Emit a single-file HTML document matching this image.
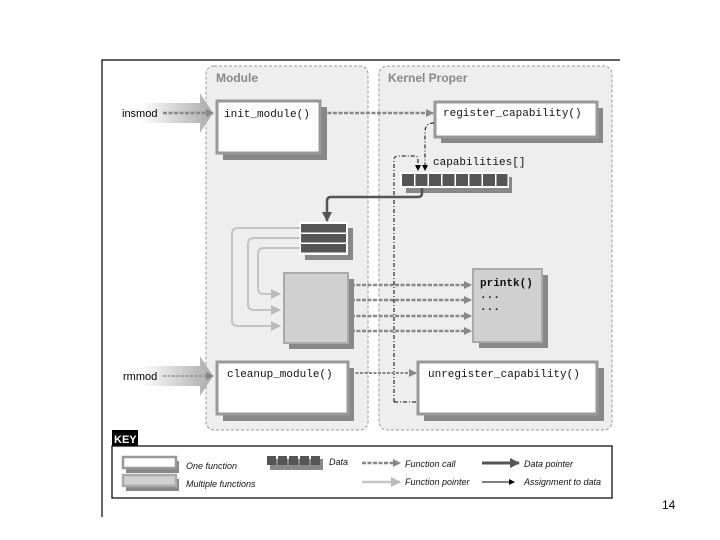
<!DOCTYPE html>
<html><head><meta charset="utf-8"><style>
body{margin:0;background:#fff;width:720px;height:540px;overflow:hidden}
svg{display:block}
.m{font-family:"Liberation Mono",monospace;font-size:11px;fill:#111}
.s{font-family:"Liberation Sans",sans-serif;font-style:italic;font-size:9px;fill:#111}
</style></head><body>
<svg width="720" height="540" viewBox="0 0 720 540">
<defs>
<linearGradient id="g" x1="0" x2="1"><stop offset="0" stop-color="#fff"/><stop offset="1" stop-color="#aaa"/></linearGradient>
<marker id="ag" markerWidth="8" markerHeight="8" refX="7" refY="4" orient="auto" markerUnits="userSpaceOnUse"><path d="M0,0L8,4L0,8z" fill="#888"/></marker>
<marker id="al" markerWidth="10" markerHeight="10" refX="9" refY="5" orient="auto" markerUnits="userSpaceOnUse"><path d="M0,0L10,5L0,10z" fill="#bbb"/></marker>
<marker id="ad" markerWidth="10" markerHeight="10" refX="9" refY="5" orient="auto" markerUnits="userSpaceOnUse"><path d="M0,0L10,5L0,10z" fill="#555"/></marker>
<marker id="ab" markerWidth="6" markerHeight="6" refX="5" refY="3" orient="auto" markerUnits="userSpaceOnUse"><path d="M0,0L6,3L0,6z" fill="#000"/></marker>
</defs>
<path d="M102,517V60H620" fill="none" stroke="#000" stroke-width="1.2"/>
<text x="662" y="509" font-family="Liberation Sans,sans-serif" font-size="12">14</text>
<!-- panels -->
<rect x="206" y="66" width="162" height="364" rx="8" fill="#eee" stroke="#999" stroke-dasharray="3,2"/>
<rect x="379" y="66" width="233" height="364" rx="8" fill="#eee" stroke="#999" stroke-dasharray="3,2"/>
<text x="216" y="82" font-family="Liberation Sans,sans-serif" font-weight="bold" font-size="12" fill="#888">Module</text>
<text x="388" y="82" font-family="Liberation Sans,sans-serif" font-weight="bold" font-size="12" fill="#888">Kernel Proper</text>
<!-- insmod / rmmod big arrows -->
<path d="M140,103H200V93L213,113L200,133V123H140z" fill="url(#g)"/>
<path d="M140,366H200V356L213,376L200,396V386H140z" fill="url(#g)"/>
<text x="122" y="117" font-family="Liberation Sans,sans-serif" font-size="11">insmod</text>
<text x="123" y="380" font-family="Liberation Sans,sans-serif" font-size="11">rmmod</text>
<line x1="163" y1="113" x2="213" y2="113" stroke="#888" stroke-width="2.5" stroke-dasharray="4,1.5" marker-end="url(#ag)"/>
<line x1="163" y1="376" x2="213" y2="376" stroke="#888" stroke-width="1.2" stroke-dasharray="3,1.5" marker-end="url(#ag)"/>
<!-- boxes with shadows -->
<rect x="223" y="107" width="104" height="53" fill="#888"/>
<rect x="217" y="101" width="103" height="52" fill="#fff" stroke="#999" stroke-width="3"/>
<text class="m" x="224" y="117">init_module()</text>
<rect x="441" y="108" width="162" height="35" fill="#888"/>
<rect x="435" y="102" width="162" height="35" fill="#fff" stroke="#999" stroke-width="3"/>
<text class="m" x="443" y="116">register_capability()</text>
<line x1="322" y1="113" x2="433" y2="113" stroke="#888" stroke-width="2.5" stroke-dasharray="4,1.5" marker-end="url(#ag)"/>
<!-- capabilities -->
<text class="m" x="433" y="165">capabilities[]</text>
<rect x="406" y="177" width="106" height="16" fill="#888"/>
<rect x="400" y="172" width="109" height="16" fill="#fff"/>
<g fill="#555"><rect x="402" y="174" width="12" height="12"/><rect x="415.5" y="174" width="12" height="12"/><rect x="429" y="174" width="12" height="12"/><rect x="442.5" y="174" width="12" height="12"/><rect x="456" y="174" width="12" height="12"/><rect x="469.5" y="174" width="12" height="12"/><rect x="483" y="174" width="12" height="12"/><rect x="496.5" y="174" width="11" height="12"/></g>
<path d="M434,123Q425,123 425,132V170" fill="none" stroke="#000" stroke-dasharray="4,2,1,2" marker-end="url(#ab)"/>
<path d="M394,402V160Q394,156 398,156H415Q418,156 418,160V170" fill="none" stroke="#000" stroke-dasharray="4,2,1,2" marker-end="url(#ab)"/>
<path d="M394,402H418" fill="none" stroke="#000" stroke-dasharray="4,2,1,2"/>
<!-- data pointer -->
<path d="M422,188V193Q422,197 418,197H331Q327,197 327,201V221" fill="none" stroke="#555" stroke-width="2.5" marker-end="url(#ad)"/>
<!-- data stack -->
<rect x="305" y="228" width="48" height="32" fill="#888"/>
<rect x="299" y="222" width="49" height="33" fill="#fff"/>
<g fill="#555"><rect x="301" y="224" width="45" height="8.5"/><rect x="301" y="234" width="45" height="8.5"/><rect x="301" y="244" width="45" height="8.5"/></g>
<!-- function pointers -->
<g fill="none" stroke="#c4c4c4" stroke-width="2">
<path d="M300,228H238Q232,228 232,234V321Q232,326 238,326H280" marker-end="url(#al)"/>
<path d="M300,238H254Q248,238 248,244V304Q248,310 254,310H280" marker-end="url(#al)"/>
<path d="M300,248H264Q258,248 258,254V288Q258,294 264,294H280" marker-end="url(#al)"/>
</g>
<!-- multiple functions box -->
<rect x="289" y="279" width="65" height="70" fill="#888"/>
<rect x="284" y="273" width="64" height="70" fill="#d0d0d0" stroke="#aaa" stroke-width="2"/>
<rect x="479" y="275" width="69" height="73" fill="#888"/>
<rect x="473" y="269" width="69" height="73" fill="#d0d0d0" stroke="#aaa" stroke-width="2"/>
<text class="m" x="480" y="286" font-weight="bold">printk()</text>
<text class="m" x="480" y="298" font-weight="bold">...</text>
<text class="m" x="480" y="310" font-weight="bold">...</text>
<g stroke="#888" stroke-width="2.5" stroke-dasharray="4,1.5" marker-end="url(#ag)">
<line x1="351" y1="285" x2="471" y2="285"/><line x1="351" y1="300" x2="471" y2="300"/><line x1="351" y1="316" x2="471" y2="316"/><line x1="351" y1="331" x2="471" y2="331"/>
</g>
<!-- cleanup / unregister -->
<rect x="223" y="368" width="131" height="53" fill="#888"/>
<rect x="217" y="362" width="131" height="52" fill="#fff" stroke="#999" stroke-width="3"/>
<text class="m" x="227" y="377">cleanup_module()</text>
<rect x="424" y="368" width="180" height="53" fill="#888"/>
<rect x="418" y="362" width="179" height="52" fill="#fff" stroke="#999" stroke-width="3"/>
<text class="m" x="428" y="377">unregister_capability()</text>
<line x1="351" y1="373" x2="416" y2="373" stroke="#888" stroke-width="2" stroke-dasharray="3,1.5" marker-end="url(#ag)"/>
<!-- key -->
<rect x="112" y="430" width="26" height="16" fill="#000"/>
<text x="114" y="443" font-family="Liberation Sans,sans-serif" font-weight="bold" font-size="11" fill="#fff">KEY</text>
<rect x="112" y="446" width="500" height="52" fill="#fff" stroke="#000" stroke-width="1.2"/>
<rect x="126" y="461" width="53" height="12" fill="#888"/><rect x="123" y="457" width="53" height="11" fill="#fff" stroke="#999" stroke-width="2.5"/>
<rect x="126" y="479" width="53" height="12" fill="#888"/><rect x="123" y="475" width="53" height="11" fill="#d0d0d0" stroke="#aaa" stroke-width="2.5"/>
<text class="s" x="186" y="469">One function</text>
<text class="s" x="186" y="487">Multiple functions</text>
<rect x="270" y="459" width="53" height="11" fill="#888"/>
<g fill="#555"><rect x="267" y="456" width="9" height="9"/><rect x="278" y="456" width="9" height="9"/><rect x="289" y="456" width="9" height="9"/><rect x="300" y="456" width="9" height="9"/><rect x="311" y="456" width="9" height="9"/></g>
<text class="s" x="329" y="465">Data</text>
<line x1="362" y1="463" x2="400" y2="463" stroke="#888" stroke-width="2.5" stroke-dasharray="4,1.5" marker-end="url(#ag)"/>
<line x1="362" y1="482" x2="400" y2="482" stroke="#c4c4c4" stroke-width="2.5" marker-end="url(#al)"/>
<text class="s" x="405" y="467">Function call</text>
<text class="s" x="405" y="485">Function pointer</text>
<line x1="482" y1="463" x2="519" y2="463" stroke="#555" stroke-width="3" marker-end="url(#ad)"/>
<line x1="482" y1="482" x2="514" y2="482" stroke="#000" stroke-width="1" marker-end="url(#ab)"/>
<text class="s" x="524" y="467">Data pointer</text>
<text class="s" x="524" y="485">Assignment to data</text>
</svg>
</body></html>
